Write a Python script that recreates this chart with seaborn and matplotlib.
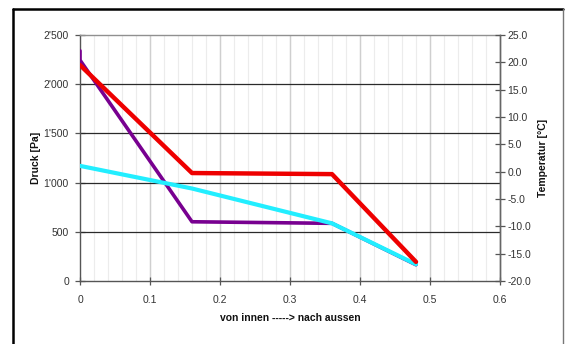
import matplotlib
matplotlib.use("Agg")
import matplotlib.pyplot as plt
import matplotlib.ticker as mticker
from matplotlib.lines import Line2D
import seaborn as sns
import pandas as pd

# ---- data ----
x_sat = [0.0, 0.0, 0.16, 0.36, 0.48]
p_sat = [2340, 2245, 602, 586, 165]          # Druck (purple)
x_vap = [0.0, 0.16, 0.36, 0.48]
p_vap = [1170, 940, 586, 170]                # Druck (cyan)
x_temp = [0.0, 0.16, 0.36, 0.48]
temp = [19.5, -0.25, -0.45, -16.5]          # Temperatur (red)

x_ticks = [0, 0.1, 0.2, 0.3, 0.4, 0.5, 0.6]
left_ticks = [0, 500, 1000, 1500, 2000, 2500]
right_ticks = [-20, -15, -10, -5, 0, 5, 10, 15, 20, 25]

sns.set_theme(style="white")
plt.rcParams['font.family'] = ['Liberation Sans', 'DejaVu Sans']

fig = plt.figure(figsize=(5.65, 3.44), dpi=100)
ax = fig.add_axes([80/565, 1-281/344, 420/565, 246/344])

df_sat = pd.DataFrame({"x": x_sat, "p": p_sat})
df_vap = pd.DataFrame({"x": x_vap, "p": p_vap})
df_t = pd.DataFrame({"x": x_temp, "t": temp})

sns.lineplot(data=df_sat, x="x", y="p", ax=ax, estimator=None, sort=False,
             color="#780090", lw=2.6, zorder=3)
sns.lineplot(data=df_vap, x="x", y="p", ax=ax, estimator=None, sort=False,
             color="#22eeff", lw=3.0, zorder=4)

ax.set_xlim(0, 0.6)
ax.set_ylim(0, 2500)
ax.set_xticks(x_ticks)
ax.set_xticks([i * 0.02 for i in range(31)], minor=True)
ax.xaxis.set_major_formatter(mticker.FuncFormatter(lambda v, p: f"{v:g}"))
ax.set_yticks(left_ticks)
ax.yaxis.set_major_formatter(mticker.FuncFormatter(
    lambda v, p: f"{int(round(v)):,}".replace(",", "'")))

ax.grid(False)
for xv in [i * 0.02 for i in range(31)]:
    ax.axvline(xv, color="#ececec", lw=0.8, zorder=0)
for xv in x_ticks[1:-1]:
    ax.axvline(xv, color="#cfcfcf", lw=1.0, zorder=0)
for yv in left_ticks[1:-1]:
    ax.axhline(yv, color="#2a2a2a", lw=0.9, zorder=1)

for s in ax.spines.values():
    s.set_visible(True)
    s.set_linewidth(1.0)
ax.spines['left'].set_color("#555555")
ax.spines['bottom'].set_color("#555555")
ax.spines['top'].set_color("#909090")
ax.spines['right'].set_color("#666666")

ax.tick_params(axis='x', which='major', direction='inout', length=6, width=0.9,
               color="#555555", labelsize=7.5, labelcolor="#333333", pad=7,
               bottom=True)
ax.tick_params(axis='x', which='minor', length=0)
ax.tick_params(axis='y', which='major', direction='inout', length=7, width=0.9,
               color="#555555", labelsize=7.5, labelcolor="#333333", pad=4.5,
               left=True)
ax.set_xlabel("von innen -----> nach aussen", fontsize=7.5, fontweight="bold",
              color="#111111", labelpad=6)
ax.set_ylabel("Druck [Pa]", fontsize=7.5, fontweight="bold", color="#111111")
ax.yaxis.set_label_coords((41 - 80) / 420, 0.5)

ax2 = ax.twinx()
sns.lineplot(data=df_t, x="x", y="t", ax=ax2, estimator=None, sort=False,
             color="#ee0000", lw=3.2, zorder=5)
ax2.set_ylim(-20, 25)
ax2.set_yticks(right_ticks)
ax2.yaxis.set_major_formatter(mticker.FormatStrFormatter("%.1f"))
ax2.grid(False)
for s in ax2.spines.values():
    s.set_visible(False)
ax2.spines['right'].set_visible(True)
ax2.spines['right'].set_color("#666666")
ax2.spines['right'].set_linewidth(1.0)
ax2.tick_params(axis='y', direction='inout', length=7, width=0.9, color="#555555",
                labelsize=7.5, labelcolor="#333333", pad=2, right=True)
ax2.set_ylabel("Temperatur [°C]", fontsize=7.5, fontweight="bold",
               color="#111111")
ax2.yaxis.set_label_coords((538 - 80) / 420, 0.5)
ax2.set_xlabel("")

# outer chart frame
fig.add_artist(Line2D([12.5/565, 12.5/565], [0, 1-8.5/344], transform=fig.transFigure,
                      color="black", lw=1.8))
fig.add_artist(Line2D([12.5/565, 563/565], [1-8.5/344, 1-8.5/344],
                      transform=fig.transFigure, color="black", lw=1.8))
fig.add_artist(Line2D([563/565, 563/565], [0, 1-8.5/344], transform=fig.transFigure,
                      color="#777777", lw=1.0))

fig.savefig("out.png", dpi=100)
